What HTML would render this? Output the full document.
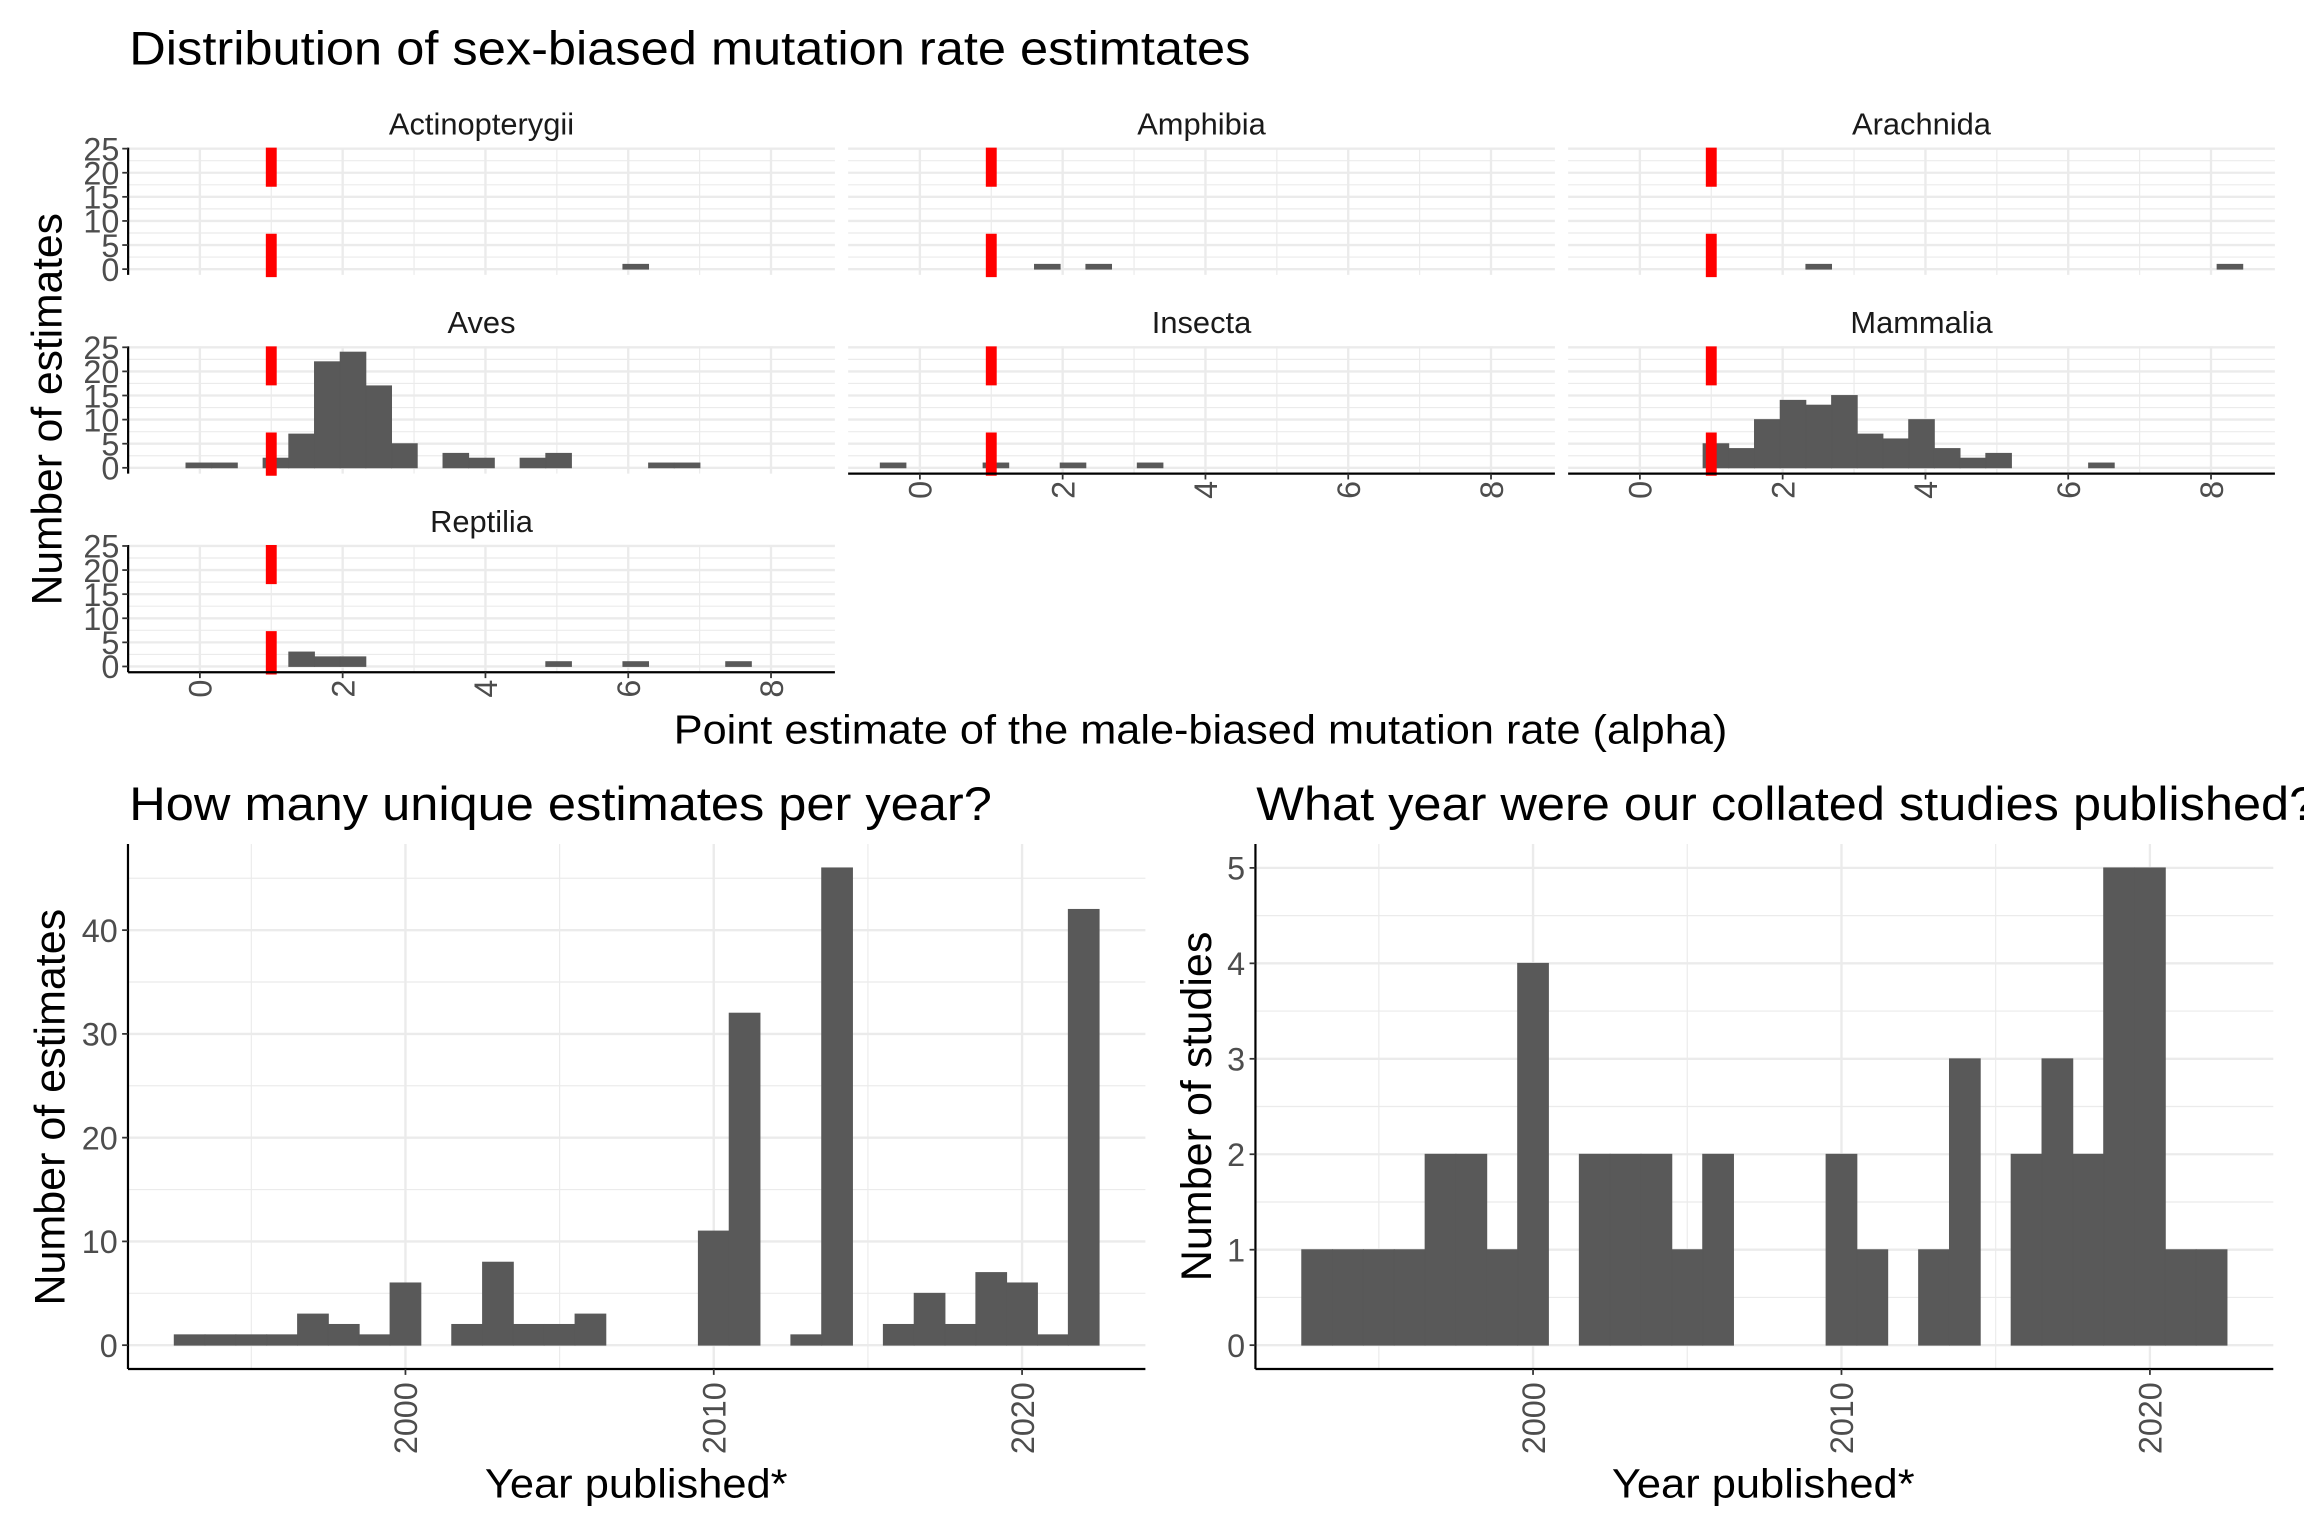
<!DOCTYPE html>
<html><head><meta charset="utf-8"><style>
html,body{margin:0;padding:0;background:#fff;}
svg{display:block;font-family:"Liberation Sans",Arial,sans-serif;}
</style></head><body>
<svg id="chart" width="2304" height="1536" viewBox="0 0 1568 1045.33" xmlns="http://www.w3.org/2000/svg">
<rect x="0" y="0" width="1568" height="1046" fill="#fff"/>
<text x="88" y="44" font-size="32" fill="#000" textLength="763" lengthAdjust="spacingAndGlyphs">Distribution of sex-biased mutation rate estimtates</text>
<text transform="translate(42,278.5) rotate(-90)" text-anchor="middle" font-size="29" fill="#000" textLength="267" lengthAdjust="spacingAndGlyphs">Number of estimates</text>
<text x="817" y="506" text-anchor="middle" font-size="28" fill="#000" textLength="717" lengthAdjust="spacingAndGlyphs">Point estimate of the male-biased mutation rate (alpha)</text>
<text x="88" y="558" font-size="32" fill="#000" textLength="587" lengthAdjust="spacingAndGlyphs">How many unique estimates per year?</text>
<text x="855" y="558" font-size="32" fill="#000" textLength="722" lengthAdjust="spacingAndGlyphs">What year were our collated studies published?</text>
<text transform="translate(44,753.5) rotate(-90)" text-anchor="middle" font-size="29" fill="#000" textLength="270" lengthAdjust="spacingAndGlyphs">Number of estimates</text>
<text transform="translate(824,753) rotate(-90)" text-anchor="middle" font-size="29" fill="#000" textLength="238" lengthAdjust="spacingAndGlyphs">Number of studies</text>
<text x="433" y="1019" text-anchor="middle" font-size="28" fill="#000" textLength="206" lengthAdjust="spacingAndGlyphs">Year published*</text>
<text x="1200" y="1019" text-anchor="middle" font-size="28" fill="#000" textLength="206" lengthAdjust="spacingAndGlyphs">Year published*</text>
<g id="plots"></g>
</svg>
<script>
// ---- facet histogram data (bins of width alphaBinWidth starting at alphaBinStart) ----
const alphaBinStart = -0.555;
const alphaBinWidth = 0.36;
const taxa = ['Actinopterygii','Amphibia','Arachnida','Aves','Insecta','Mammalia','Reptilia'];
const countsActinopterygii = [0,0,0,0,0,0,0,0,0,0,0,0,0,0,0,0,0,0,1,0,0,0,0,0,0];
const countsAmphibia       = [0,0,0,0,0,0,1,0,1,0,0,0,0,0,0,0,0,0,0,0,0,0,0,0,0];
const countsArachnida      = [0,0,0,0,0,0,0,0,1,0,0,0,0,0,0,0,0,0,0,0,0,0,0,0,1];
const countsAves           = [0,1,1,0,2,7,22,24,17,5,0,3,2,0,2,3,0,0,0,1,1,0,0,0,0];
const countsInsecta        = [1,0,0,0,1,0,0,1,0,0,1,0,0,0,0,0,0,0,0,0,0,0,0,0,0];
const countsMammalia       = [0,0,0,0,5,4,10,14,13,15,7,6,10,4,2,3,0,0,0,1,0,0,0,0,0];
const countsReptilia       = [0,0,0,0,0,3,2,2,0,0,0,0,0,0,0,1,0,0,1,0,0,0,1,0,0];
const facetYTicks = [0,5,10,15,20,25];
const facetXTicks = [0,2,4,6,8];
const referenceAlpha = 1;

// ---- per-year data ----
const years = [1993,1994,1995,1996,1997,1998,1999,2000,2001,2002,2003,2004,2005,2006,2007,2008,2009,2010,2011,2012,2013,2014,2015,2016,2017,2018,2019,2020,2021,2022];
const estimatesPerYear = [1,1,1,1,3,2,1,6,0,2,8,2,2,3,0,0,0,11,32,0,1,46,0,2,5,2,7,6,1,42];
const studiesPerYear   = [1,1,1,1,2,2,1,4,0,2,2,2,1,2,0,0,0,2,1,0,1,3,0,2,3,2,5,5,1,1];
const yearTicks = [2000,2010,2020];
const estimateTicks = [0,10,20,30,40];
const studyTicks = [0,1,2,3,4,5];

const NS = 'http://www.w3.org/2000/svg';
const root = document.getElementById('plots');
function mk(tag, attrs, parent){
  const el = document.createElementNS(NS, tag);
  for (const k in attrs) el.setAttribute(k, attrs[k]);
  (parent || root).appendChild(el);
  return el;
}
const BAR = '#595959', GRID = '#ebebeb', LBL = '#4d4d4d';

// ===== facets =====
const countsByTaxon = [countsActinopterygii,countsAmphibia,countsArachnida,countsAves,countsInsecta,countsMammalia,countsReptilia];
let facetMax = 0;
countsByTaxon.forEach(a => a.forEach(v => { if (v > facetMax) facetMax = v; }));
const nBins = countsAves.length;
const xMin = alphaBinStart, xMax = alphaBinStart + alphaBinWidth * nBins;
const xPad = (xMax - xMin) * 0.05;
const xLo = xMin - xPad, xHi = xMax + xPad;
const yLo = -facetMax * 0.05, yHi = facetMax * 1.05;
const colLeft = [87.2, 577.2, 1067.2];
const panelW = 481;
const rowTop = [100.5, 235.7, 370.9];
const panelH = 86.6;

taxa.forEach((name, idx) => {
  const r = Math.floor(idx / 3), c = idx % 3;
  const L = colLeft[c], T = rowTop[r];
  const xs = u => L + (u - xLo) / (xHi - xLo) * panelW;
  const ys = v => T + (yHi - v) / (yHi - yLo) * panelH;
  const g = mk('g', {});
  
  
  const st = mk('text', {x: L + panelW / 2, y: T - 9, 'text-anchor': 'middle', 'font-size': 21, fill: '#1a1a1a'}, g);
  st.textContent = name;
  
  
  for (let i = 0; i < facetYTicks.length - 1; i++) {
    const v = (facetYTicks[i] + facetYTicks[i + 1]) / 2;
    const ln = mk('line', {x1: L, x2: L + panelW, y1: ys(v), y2: ys(v), stroke: GRID, 'stroke-width': 0.8}, g);
    
    
  }
  for (let i = 0; i < facetXTicks.length - 1; i++) {
    const u = (facetXTicks[i] + facetXTicks[i + 1]) / 2;
    const ln = mk('line', {x1: xs(u), x2: xs(u), y1: T, y2: T + panelH, stroke: GRID, 'stroke-width': 0.8}, g);
    
    
  }
  facetYTicks.forEach(v => {
    const ln = mk('line', {x1: L, x2: L + panelW, y1: ys(v), y2: ys(v), stroke: GRID, 'stroke-width': 1.6}, g);
    
    
  });
  facetXTicks.forEach(u => {
    const ln = mk('line', {x1: xs(u), x2: xs(u), y1: T, y2: T + panelH, stroke: GRID, 'stroke-width': 1.6}, g);
    
    
  });
  const counts = countsByTaxon[idx];
  counts.forEach((v, i) => {
    if (!v) return;
    const a = alphaBinStart + alphaBinWidth * i, b = a + alphaBinWidth;
    const rc = mk('rect', {x: xs(a), y: ys(v), width: xs(b) - xs(a), height: ys(0) - ys(v), fill: BAR, stroke: BAR, 'stroke-width': 0.6}, g);
    
    
  });
  const rl = mk('line', {x1: xs(referenceAlpha), x2: xs(referenceAlpha), y1: T + panelH + 1.5, y2: T, stroke: '#ff0000', 'stroke-width': 7.4, 'stroke-dasharray': '29.5 32'}, g);
  
  
  if (c === 0) {
    const ax = mk('line', {x1: L, x2: L, y1: T, y2: T + panelH, stroke: '#000', 'stroke-width': 1.5}, g);
    
    
    facetYTicks.forEach(v => {
      const tk = mk('line', {x1: L - 4, x2: L, y1: ys(v), y2: ys(v), stroke: '#333', 'stroke-width': 1.2}, g);
      
      
      const tl = mk('text', {x: L - 6, y: ys(v) + 8, 'text-anchor': 'end', 'font-size': 22, fill: LBL}, g);
      tl.textContent = v;
      
      
    });
  }
  if (r === 2 || (r === 1 && c > 0)) {
    const by = T + panelH;
    const ax = mk('line', {x1: L, x2: L + panelW, y1: by, y2: by, stroke: '#000', 'stroke-width': 1.5}, g);
    
    
    facetXTicks.forEach(u => {
      const tk = mk('line', {x1: xs(u), x2: xs(u), y1: by, y2: by + 4, stroke: '#333', 'stroke-width': 1.2}, g);
      
      
      const tl = mk('text', {transform: 'translate(' + (xs(u) + 8) + ',' + (by + 5) + ') rotate(-90)', 'text-anchor': 'end', 'font-size': 22, fill: LBL}, g);
      tl.textContent = u;
      
      
    });
  }
});

// ===== year bar charts =====
function yearChart(key, values, yTicks, L, R) {
  const T = 574.4, B = 931.7;
  const vmax = Math.max.apply(null, values);
  const lo = -vmax * 0.05, hi = vmax * 1.05;
  const yMinYear = years[0] - 0.5, yMaxYear = years[years.length - 1] + 0.5;
  const pad = (yMaxYear - yMinYear) * 0.05;
  const x0 = yMinYear - pad, x1 = yMaxYear + pad;
  const xs = y => L + (y - x0) / (x1 - x0) * (R - L);
  const ys = v => T + (hi - v) / (hi - lo) * (B - T);
  const g = mk('g', {});
  
  
  for (let i = 0; i < yTicks.length; i++) {
    const step = yTicks[1] - yTicks[0];
    const m = yTicks[i] + step / 2;
    if (m < hi) {
      const ln = mk('line', {x1: L, x2: R, y1: ys(m), y2: ys(m), stroke: GRID, 'stroke-width': 0.8}, g);
      
      
    }
  }
  const xstep = yearTicks[1] - yearTicks[0];
  [yearTicks[0] - xstep / 2].concat(yearTicks.map(t => t + xstep / 2)).forEach(m => {
    if (m <= x0 || m >= x1) return;
    const ln = mk('line', {x1: xs(m), x2: xs(m), y1: T, y2: B, stroke: GRID, 'stroke-width': 0.8}, g);
    
    
  });
  yTicks.forEach(v => {
    const ln = mk('line', {x1: L, x2: R, y1: ys(v), y2: ys(v), stroke: GRID, 'stroke-width': 1.6}, g);
    
    
  });
  yearTicks.forEach(t => {
    const ln = mk('line', {x1: xs(t), x2: xs(t), y1: T, y2: B, stroke: GRID, 'stroke-width': 1.6}, g);
    
    
  });
  values.forEach((v, i) => {
    if (!v) return;
    const rc = mk('rect', {x: xs(years[i] - 0.5), y: ys(v), width: xs(years[i] + 0.5) - xs(years[i] - 0.5), height: ys(0) - ys(v), fill: BAR, stroke: BAR, 'stroke-width': 0.6}, g);
    
    
  });
  const ay = mk('line', {x1: L, x2: L, y1: T, y2: B, stroke: '#000', 'stroke-width': 1.5}, g);
  
  
  const ax = mk('line', {x1: L, x2: R, y1: B, y2: B, stroke: '#000', 'stroke-width': 1.5}, g);
  
  
  yTicks.forEach(v => {
    const tk = mk('line', {x1: L - 4, x2: L, y1: ys(v), y2: ys(v), stroke: '#333', 'stroke-width': 1.2}, g);
    
    
    const tl = mk('text', {x: L - 7, y: ys(v) + 8, 'text-anchor': 'end', 'font-size': 22, fill: LBL}, g);
    tl.textContent = v;
    
    
  });
  yearTicks.forEach(t => {
    const tk = mk('line', {x1: xs(t), x2: xs(t), y1: B, y2: B + 4, stroke: '#333', 'stroke-width': 1.2}, g);
    
    
    const tl = mk('text', {transform: 'translate(' + (xs(t) + 8) + ',' + (B + 9) + ') rotate(-90)', 'text-anchor': 'end', 'font-size': 22, fill: LBL}, g);
    tl.textContent = t;
    
    
  });
}
yearChart('estimates-per-year', estimatesPerYear, estimateTicks, 87.1, 779.5);
yearChart('studies-per-year', studiesPerYear, studyTicks, 854.4, 1547.1);
</script>
</body></html>
